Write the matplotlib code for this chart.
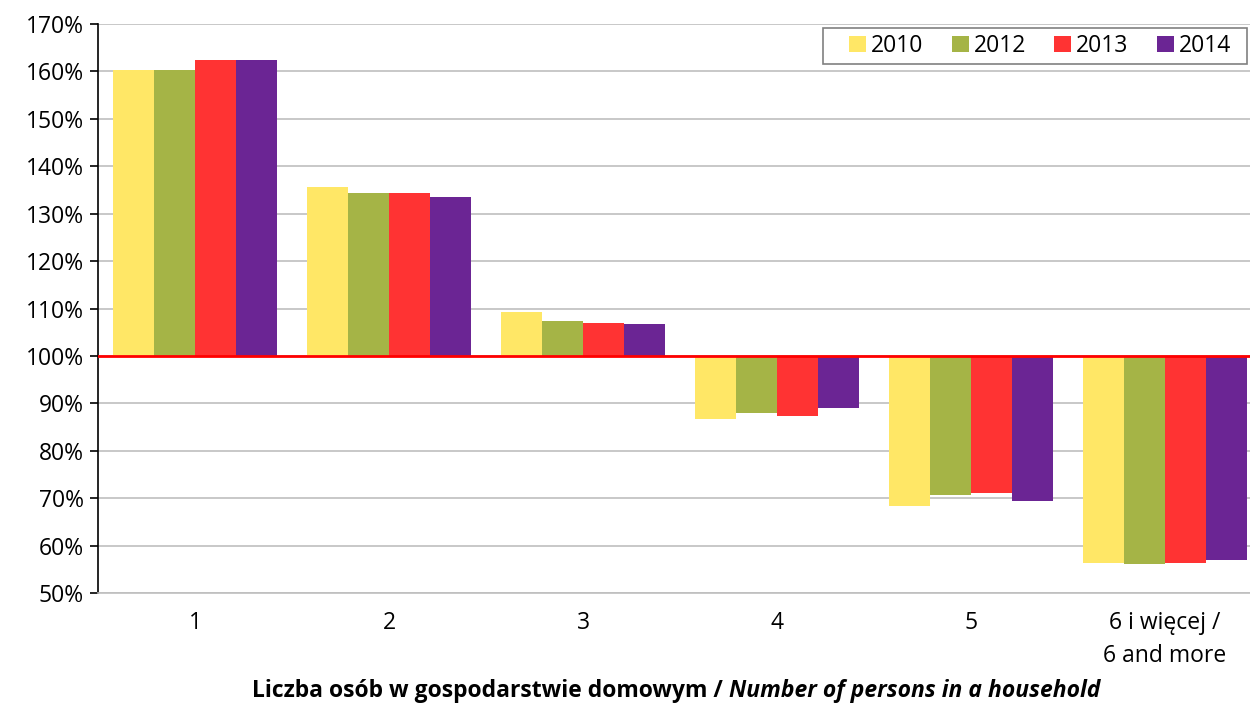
import matplotlib.pyplot as plt
from matplotlib.patches import Rectangle
import numpy as np

plt.rcParams['font.family'] = ['Open Sans', 'DejaVu Sans']

# data (share of average, %)
categories = ['1', '2', '3', '4', '5', '6 i więcej /\n6 and more']
years = ['2010', '2012', '2013', '2014']
v2010 = [160.4, 135.6, 109.3, 86.7, 68.4, 56.3]
v2012 = [160.2, 134.4, 107.4, 88.0, 70.7, 56.1]
v2013 = [162.4, 134.4, 107.0, 87.4, 71.1, 56.3]
v2014 = [162.4, 133.6, 106.8, 89.0, 69.5, 57.0]
series = [v2010, v2012, v2013, v2014]
colors = ['#FFE766', '#A5B446', '#FF3333', '#6B2594']

W, H = 1250, 704
fig = plt.figure(figsize=(W/100, H/100), dpi=100)
ax = fig.add_axes([98/W, 1 - 593/H, 1 - 98/W, (593 - 24)/H])

x = np.arange(len(categories))
w = 0.212
for i, (vals, c, lab) in enumerate(zip(series, colors, years)):
    vals = np.array(vals)
    ax.bar(x + (i - 1.5)*w, vals - 100, bottom=100, width=w, color=c,
           label=lab, zorder=3, linewidth=0)

ax.axhline(100, color='#FF0000', lw=2, zorder=4)

ax.set_ylim(50, 170)
ax.set_xlim(-0.5, (W - 98)/194 - 0.5)
ax.set_yticks(np.arange(50, 171, 10))
ax.set_yticklabels(['%d%%' % t for t in np.arange(50, 171, 10)], fontsize=16.5)
ax.set_xticks(x)
ax.set_xticklabels(categories, fontsize=16.5, linespacing=1.5)
ax.tick_params(axis='x', length=0, pad=13)
ax.tick_params(axis='y', length=6, width=1.2, direction='out', pad=4)
ax.yaxis.grid(True, color='#BFBFBF', lw=1.2, zorder=0)
ax.set_axisbelow(True)
for s in ['top', 'right']:
    ax.spines[s].set_visible(False)
ax.spines['left'].set_color('black')
ax.spines['left'].set_linewidth(1.2)
ax.spines['bottom'].set_color('#BFBFBF')
ax.spines['bottom'].set_linewidth(1.2)

# legend: no own frame, box drawn separately
leg = ax.legend(loc='center left', ncol=4, fontsize=16.5, frameon=False,
                handlelength=0.75, handleheight=0.75, handletextpad=0.22,
                columnspacing=1.22, borderpad=0, borderaxespad=0,
                bbox_to_anchor=(849/W, 1 - 46/H), bbox_transform=fig.transFigure)
leg.set_zorder(6)
ax.add_patch(Rectangle((823/W, 1 - 64/H), 424/W, 36/H, transform=fig.transFigure,
                       facecolor='white', edgecolor='#808080', lw=1.2, zorder=5,
                       clip_on=False))

# x axis title: bold + bold italic part
p1 = 'Liczba osób w gospodarstwie domowym / '
p2 = 'Number of persons in a household'
ty = 1 - 691/H
t1 = fig.text(0, ty, p1, fontsize=16.5, fontweight='bold', va='center')
t2 = fig.text(0, ty, p2, fontsize=16.5, fontweight='bold', style='italic', va='center')
fig.canvas.draw()
r = fig.canvas.get_renderer()
w1 = t1.get_window_extent(r).width
w2 = t2.get_window_extent(r).width
start = 676 - (w1 + w2)/2
t1.set_x(start/W)
t2.set_x((start + w1)/W)

fig.savefig('out.png', dpi=100)
